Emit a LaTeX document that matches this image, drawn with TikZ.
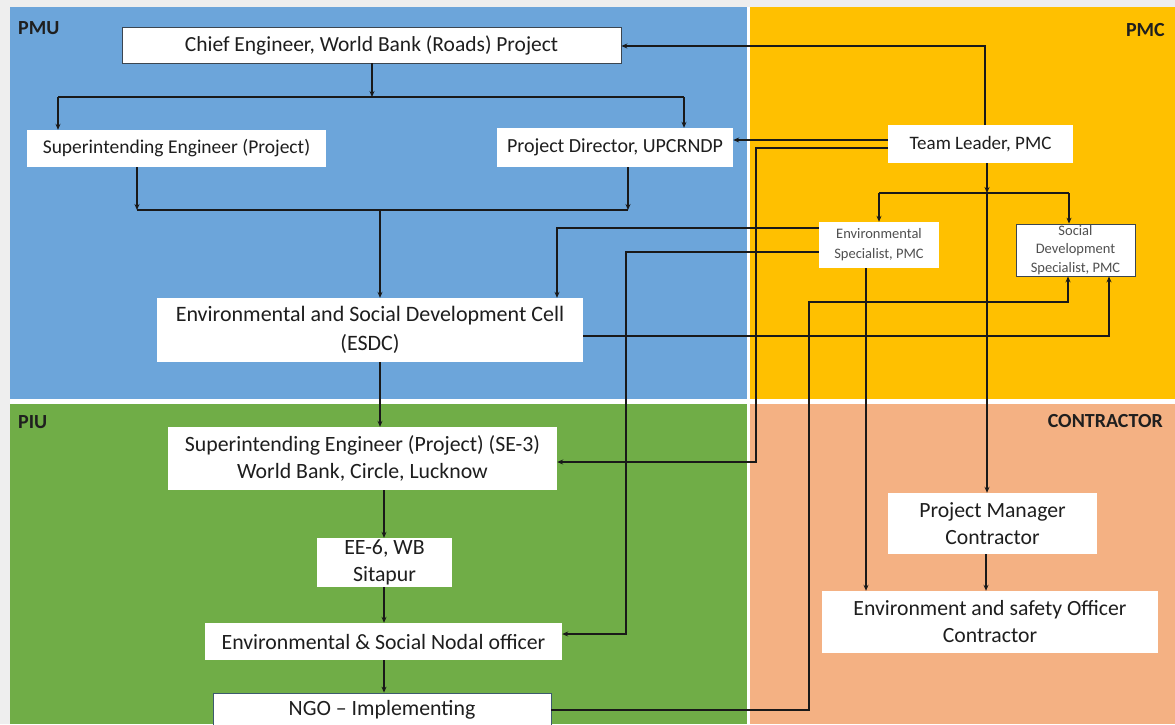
\documentclass[tikz,border=0pt]{standalone}
\usepackage{fontspec}
\setmainfont{Carlito}
\usetikzlibrary{arrows.meta}
\definecolor{pmublue}{RGB}{108,165,218}
\definecolor{pmcgold}{RGB}{255,192,0}
\definecolor{piugreen}{RGB}{112,173,71}
\definecolor{consalmon}{RGB}{244,177,131}
\definecolor{linecol}{RGB}{25,25,25}
\definecolor{txtcol}{RGB}{30,30,30}
\definecolor{smalltxt}{RGB}{80,80,80}
\definecolor{bordercol}{RGB}{60,70,80}
\definecolor{ngoborder}{RGB}{60,90,110}
\definecolor{bgcol}{RGB}{238,238,238}
\begin{document}
\begin{tikzpicture}[x=1pt,y=-1pt,
 box/.style={fill=white, inner sep=0pt, align=center, text=txtcol},
 framed/.style={box, draw=bordercol, line width=0.8pt},
 arr/.style={draw=linecol, line width=1.5pt, -{Stealth[length=6pt,width=5pt]}},
 ln/.style={draw=linecol, line width=1.5pt},
 panellabel/.style={font=\fontsize{20}{24}\selectfont\bfseries, text=black!88, inner sep=0pt}]
\useasboundingbox (0,0) rectangle (1175,724);
% panels
\fill[white] (0,0) rectangle (1175,724);
\fill[bgcol] (0,0) rectangle (1175,7);
\fill[bgcol] (0,0) rectangle (10,724);
\fill[pmublue] (10,7) rectangle (747,399);
\fill[pmcgold] (750,7) rectangle (1175,399);
\fill[piugreen] (10,404) rectangle (747,724);
\fill[consalmon] (750,404) rectangle (1175,724);
\node[panellabel, anchor=west] (lpmu) at (18,28) {PMU};
\node[panellabel, anchor=east] (lpmc) at (1165,30) {PMC};
\node[panellabel, anchor=west] (lpiu) at (18,422) {PIU};
\node[panellabel, anchor=east] (lcon) at (1163,421) {CONTRACTOR};
% nodes
\node[framed, minimum width=499pt, minimum height=36pt, font=\fontsize{21.5}{24}\selectfont] (CE) at (371.5,45) {Chief Engineer, World Bank (Roads) Project};
\node[box, minimum width=299pt, minimum height=37pt, font=\fontsize{19.5}{22}\selectfont] (SEP) at (176.5,148.5) {Superintending Engineer (Project)};
\node[box, minimum width=236pt, minimum height=39pt, font=\fontsize{20}{22}\selectfont] (PD) at (615,147.5) {Project Director, UPCRNDP};
\node[box, minimum width=185pt, minimum height=38pt, font=\fontsize{19}{22}\selectfont] (TL) at (980.5,144) {Team Leader, PMC};
\node[box, minimum width=120pt, minimum height=46pt, font=\fontsize{14.5}{20}\selectfont, text=smalltxt] (ES) at (879,245) {Environmental\\Specialist, PMC};
\node[framed, minimum width=119pt, minimum height=52pt, font=\fontsize{14.5}{18.5}\selectfont, text=smalltxt] (SDS) at (1075.5,250) {Social\\Development\\Specialist, PMC};
\node[box, minimum width=426pt, minimum height=64pt, font=\fontsize{22}{29}\selectfont] (ESDC) at (370,330) {Environmental and Social Development Cell\\(ESDC)};
\node[box, minimum width=389pt, minimum height=63pt, font=\fontsize{21.8}{27}\selectfont] (SE3) at (362.5,458.5) {Superintending Engineer (Project) (SE-3)\\World Bank, Circle, Lucknow};
\node[box, minimum width=135pt, minimum height=49pt, font=\fontsize{21.8}{27}\selectfont] (EE6) at (384.5,562.5) {EE-6, WB\\Sitapur};
\node[box, minimum width=357pt, minimum height=37pt, font=\fontsize{21.8}{24}\selectfont] (ESNO) at (383.5,641.5) {Environmental \& Social Nodal officer};
\node[box, draw=ngoborder, line width=0.8pt, minimum width=338pt, minimum height=34pt, font=\fontsize{21.8}{24}\selectfont] (NGO) at (382,710) {NGO – Implementing};
\node[box, minimum width=209pt, minimum height=61pt, font=\fontsize{21.7}{27}\selectfont] (PM) at (992.5,523.5) {Project Manager\\Contractor};
\node[box, minimum width=336pt, minimum height=62pt, font=\fontsize{21.7}{27}\selectfont] (ESO) at (990,622) {Environment and safety Officer\\Contractor};
% connectors PMU
\coordinate (j1) at (372,97);
\coordinate (j1a) at (58,97);
\coordinate (j1b) at (684,97);
\draw[arr] (CE.south -| j1) -- (j1);
\draw[ln] (j1a) -- (j1b);
\draw[arr] (j1a) -- (SEP.north -| j1a);
\draw[arr] (j1b) -- (PD.north -| j1b);
\coordinate (j2) at (380,210);
\coordinate (j2a) at (137,210);
\coordinate (j2b) at (628,210);
\draw[arr] (SEP.south -| j2a) -- (j2a);
\draw[arr] (PD.south -| j2b) -- (j2b);
\draw[ln] (j2a) -- (j2b);
\draw[arr] (j2) -- (ESDC.north -| j2);
\draw[arr] (ESDC.south -| j2) -- (SE3.north -| j2);
% Team leader
\coordinate (t1) at (985,46);
\draw[arr] (TL.north -| t1) -- (t1) -- (CE.east |- t1);
\coordinate (t2) at ([yshift=4pt]TL.west);
\draw[arr] (t2) -- (PD.east |- t2);
\coordinate (t3s) at ([yshift=-4pt]TL.west);
\coordinate (t3) at (756,462);
\draw[arr] (t3s) -| (t3) -- (SE3.east |- t3);
\coordinate (t4) at (987,193);
\coordinate (t4a) at (879,193);
\coordinate (t4b) at (1069,193);
\draw[arr] (TL.south -| t4) -- (t4);
\draw[arr] (t4) -- (PM.north -| t4);
\draw[ln] (t4a) -- (t4b);
\draw[arr] (t4a) -- (ES.north -| t4a);
\draw[arr] (t4b) -- (SDS.north -| t4b);
% Environmental specialist
\coordinate (e1s) at ([yshift=17pt]ES.west);
\coordinate (e1) at (557,228);
\draw[arr] (e1s) -- (e1) -- (ESDC.north -| e1);
\coordinate (e2s) at ([yshift=-7pt]ES.west);
\coordinate (e2) at (626,252);
\coordinate (e2b) at (626,634);
\draw[arr] (e2s) -- (e2) -- (e2b) -- (ESNO.east |- e2b);
\coordinate (e3) at (866,0);
\draw[arr] (ES.south -| e3) -- (ESO.north -| e3);
\coordinate (p1) at (986,0);
\draw[arr] (PM.south -| p1) -- (ESO.north -| p1);
% to social development specialist
\coordinate (d1s) at ([yshift=-6pt]ESDC.east);
\coordinate (d1) at (1109,336);
\draw[arr] (d1s) -- (d1) -- (SDS.south -| d1);
\coordinate (n1) at (809,710);
\coordinate (n2) at (809,302);
\coordinate (n3) at (1068,302);
\draw[arr] (NGO.east) -- (n1) -- (n2) -- (n3) -- (SDS.south -| n3);
% PIU chain
\coordinate (c1) at (384,0);
\draw[arr] (SE3.south -| c1) -- (EE6.north -| c1);
\draw[arr] (EE6.south -| c1) -- (ESNO.north -| c1);
\draw[arr] (ESNO.south -| c1) -- (NGO.north -| c1);
\end{tikzpicture}
\end{document}
